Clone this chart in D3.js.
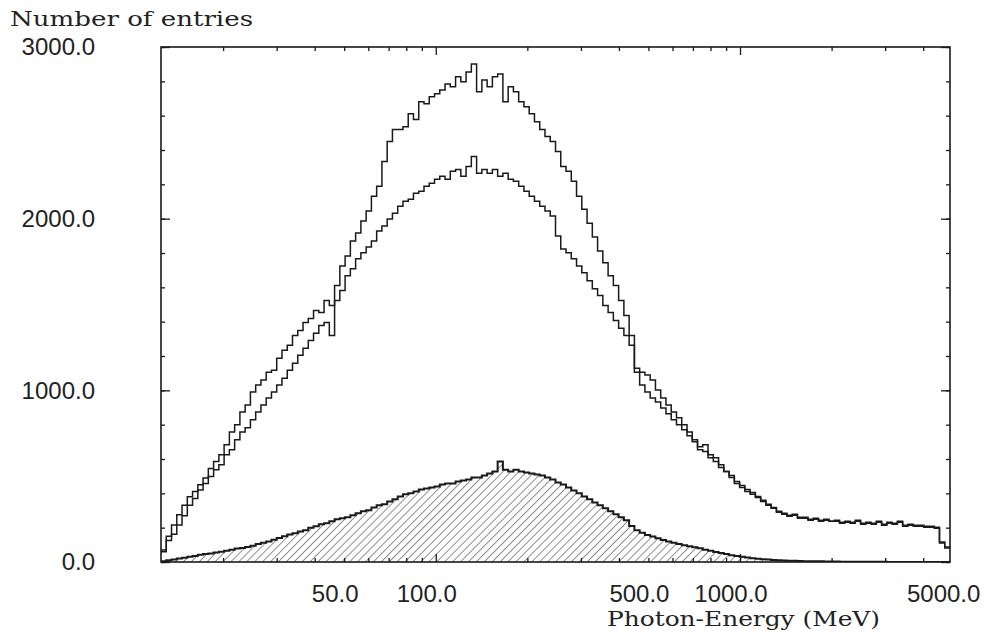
<!DOCTYPE html>
<html>
<head>
<meta charset="utf-8">
<script src="https://cdn.jsdelivr.net/npm/d3@7"></script>
<style>
  html, body { margin: 0; padding: 0; background: #ffffff; }
  svg { display: block; }
</style>
</head>
<body>
<svg id="chart" width="984" height="637"></svg>
<script>
// ---------------- data ----------------
const energyRange = [12.5, 4900];   // MeV, log-binned histogram range
const nBins = 150;

const totalCounts = [
  70, 150, 215, 275, 330, 380, 410, 450, 490, 545,
  585, 625, 683, 758, 799, 874, 915, 990, 1031, 1060,
  1106, 1117, 1187, 1233, 1262, 1320, 1349, 1395, 1419, 1465,
  1453, 1523, 1494, 1610, 1725, 1783, 1870, 1916, 1986, 2044,
  2131, 2189, 2333, 2449, 2519, 2519, 2536, 2611, 2577, 2681,
  2669, 2710, 2727, 2750, 2785, 2768, 2826, 2797, 2854, 2901,
  2739, 2808, 2768, 2826, 2843, 2681, 2768, 2739, 2681, 2652,
  2611, 2565, 2519, 2478, 2449, 2391, 2304, 2276, 2218, 2131,
  2055, 1974, 1893, 1812, 1743, 1668, 1610, 1523, 1436, 1320,
  1129, 1106, 1089, 1060, 1002, 955, 915, 874, 840, 799,
  758, 712, 672, 683, 625, 608, 567, 527, 504, 469,
  446, 423, 405, 382, 359, 336, 318, 295, 284, 272,
  278, 261, 261, 249, 255, 243, 249, 237, 243, 232,
  237, 232, 243, 226, 232, 226, 237, 220, 232, 226,
  237, 214, 220, 214, 214, 208, 208, 203, 116, 87
];

const selectedCounts = [
  60, 125, 162, 215, 270, 330, 370, 420, 457, 498,
  538, 567, 625, 654, 712, 758, 782, 828, 874, 915,
  955, 990, 1031, 1071, 1117, 1158, 1204, 1245, 1291, 1332,
  1378, 1395, 1320, 1523, 1581, 1668, 1708, 1766, 1801, 1835,
  1870, 1928, 1957, 1998, 2032, 2073, 2102, 2113, 2148, 2160,
  2189, 2206, 2229, 2247, 2229, 2276, 2287, 2247, 2304, 2362,
  2264, 2287, 2264, 2287, 2247, 2264, 2229, 2218, 2189, 2160,
  2131, 2102, 2073, 2044, 2015, 1899, 1824, 1801, 1766, 1725,
  1685, 1639, 1592, 1552, 1494, 1453, 1407, 1361, 1320, 1262,
  1106, 1031, 990, 955, 932, 897, 863, 828, 799, 770,
  735, 701, 654, 643, 608, 585, 550, 527, 492, 457,
  434, 411, 394, 376, 353, 330, 313, 290, 278, 266,
  272, 255, 255, 243, 249, 237, 243, 237, 237, 226,
  232, 226, 237, 220, 226, 220, 232, 214, 226, 220,
  232, 208, 214, 208, 208, 203, 203, 197, 110, 82
];

const hatchedCounts = [
  5, 10, 15, 20, 25, 30, 35, 42, 46, 50,
  55, 60, 66, 72, 78, 82, 88, 95, 105, 112,
  120, 130, 140, 150, 160, 168, 178, 185, 200, 208,
  220, 226, 237, 249, 255, 261, 272, 284, 295, 301,
  318, 330, 336, 353, 365, 382, 394, 400, 411, 423,
  428, 434, 440, 452, 457, 457, 469, 475, 481, 492,
  492, 504, 515, 527, 585, 538, 527, 538, 527, 521,
  515, 510, 504, 492, 481, 463, 452, 434, 417, 400,
  382, 365, 347, 330, 313, 295, 278, 261, 243, 210,
  185, 170, 158, 148, 138, 128, 120, 112, 105, 98,
  92, 86, 80, 72, 66, 58, 52, 46, 40, 35,
  30, 26, 22, 19, 16, 14, 12, 10, 9, 8,
  7, 6, 5, 5, 4, 4, 3, 3, 3, 2,
  2, 2, 2, 1, 1, 1, 1, 1, 0, 0,
  0, 0, 0, 0, 0, 0, 0, 0, 0, 0
];

const yTickLabels = [0, 1000, 2000, 3000];
const yMinorTicks = d3.range(0, 3001, 200);
const xTickLabels = [50, 100, 500, 1000, 5000];
const xMinorTicks = [20, 30, 40, 50, 60, 70, 80, 90, 100, 200, 300, 400, 500, 600, 700, 800, 900, 1000, 2000, 3000, 4000];
const xMajorTicks = [100, 1000];
const yTitle = "Number of entries";
const xTitle = "Photon-Energy (MeV)";

// ---------------- layout ----------------
const frame = { left: 161, right: 950, top: 47, bottom: 562 };
const svg = d3.select("#chart");

const x = d3.scaleLog().domain(energyRange).range([frame.left, frame.right]);
const y = d3.scaleLinear().domain([0, 3000]).range([frame.bottom, frame.top]);

// log-spaced bin edges across the energy range
const lo = Math.log10(energyRange[0]), hi = Math.log10(energyRange[1]);
const edges = d3.range(nBins + 1).map(i => Math.pow(10, lo + (hi - lo) * i / nBins));

function stepPath(vals, closeToZero) {
  const p = d3.path();
  if (closeToZero) p.moveTo(x(edges[0]), y(0)); else p.moveTo(x(edges[0]), y(vals[0]));
  vals.forEach((v, i) => {
    p.lineTo(x(edges[i]), y(v));
    p.lineTo(x(edges[i + 1]), y(v));
  });
  if (closeToZero) { p.lineTo(x(edges[nBins]), y(0)); p.closePath(); }
  return p.toString();
}

// hatch pattern
const defs = svg.append("defs");
defs.append("pattern")
  .attr("id", "hatch")
  .attr("patternUnits", "userSpaceOnUse")
  .attr("width", 5.6).attr("height", 5.6)
  .attr("patternTransform", "rotate(45)")
  .append("line")
  .attr("x1", 0).attr("y1", 0).attr("x2", 0).attr("y2", 5.6)
  .attr("stroke", "#333").attr("stroke-width", 1.1);

defs.append("clipPath").attr("id", "clip")
  .append("rect")
  .attr("x", frame.left).attr("y", frame.top)
  .attr("width", frame.right - frame.left).attr("height", frame.bottom - frame.top);

const plot = svg.append("g").attr("clip-path", "url(#clip)");

// hatched histogram
plot.append("path")
  .attr("d", stepPath(hatchedCounts, true))
  .attr("fill", "url(#hatch)")
  .attr("stroke", "none");
plot.append("path")
  .attr("d", stepPath(hatchedCounts, false))
  .attr("fill", "none")
  .attr("stroke", "#1a1a1a")
  .attr("stroke-width", 2);

// two outline histograms
[selectedCounts, totalCounts].forEach(vals => {
  plot.append("path")
    .attr("d", stepPath(vals, false))
    .attr("fill", "none")
    .attr("stroke", "#1a1a1a")
    .attr("stroke-width", 1.5)
    .attr("stroke-linejoin", "miter");
});

// frame
svg.append("rect")
  .attr("x", frame.left).attr("y", frame.top)
  .attr("width", frame.right - frame.left).attr("height", frame.bottom - frame.top)
  .attr("fill", "none").attr("stroke", "#1a1a1a").attr("stroke-width", 1.6);

// y axes (ticks inward)
function cleanAxis(g) { g.select(".domain").remove(); g.selectAll("line").attr("stroke", "#1a1a1a").attr("stroke-width", 1.3); }

svg.append("g").attr("transform", `translate(${frame.left},0)`)
  .call(d3.axisLeft(y).tickValues(yMinorTicks).tickSize(-4).tickFormat(""))
  .call(cleanAxis);
svg.append("g").attr("transform", `translate(${frame.left},0)`)
  .call(d3.axisLeft(y).tickValues(yTickLabels).tickSize(-9).tickPadding(66).tickFormat(d3.format(".1f")))
  .call(cleanAxis)
  .call(g => g.selectAll("text")
    .attr("font-family", "'Liberation Sans', Arial, sans-serif")
    .attr("font-size", 24).attr("fill", "#222"));

svg.append("g").attr("transform", `translate(${frame.right},0)`)
  .call(d3.axisRight(y).tickValues(yMinorTicks).tickSize(-4).tickFormat(""))
  .call(cleanAxis);
svg.append("g").attr("transform", `translate(${frame.right},0)`)
  .call(d3.axisRight(y).tickValues(yTickLabels).tickSize(-9).tickFormat(""))
  .call(cleanAxis);

// x axes (ticks inward)
const xMinorOnly = xMinorTicks.filter(v => !xMajorTicks.includes(v));
svg.append("g").attr("transform", `translate(0,${frame.bottom})`)
  .call(d3.axisBottom(x).tickValues(xMinorOnly).tickSize(-4).tickFormat(""))
  .call(cleanAxis);
svg.append("g").attr("transform", `translate(0,${frame.bottom})`)
  .call(d3.axisBottom(x).tickValues(xMajorTicks).tickSize(-8).tickFormat(""))
  .call(cleanAxis);
svg.append("g").attr("transform", `translate(0,${frame.top})`)
  .call(d3.axisTop(x).tickValues(xMinorOnly).tickSize(-4).tickFormat(""))
  .call(cleanAxis);
svg.append("g").attr("transform", `translate(0,${frame.top})`)
  .call(d3.axisTop(x).tickValues(xMajorTicks).tickSize(-8).tickFormat(""))
  .call(cleanAxis);

// x tick labels (printed slightly left of their ticks, as in the original)
svg.append("g").selectAll("text")
  .data(xTickLabels)
  .join("text")
  .attr("x", d => x(d) - 9)
  .attr("y", 602)
  .attr("text-anchor", "middle")
  .attr("font-family", "'Liberation Sans', Arial, sans-serif")
  .attr("font-size", 24)
  .attr("fill", "#222")
  .text(d => d3.format(".1f")(d));

// titles
svg.append("text")
  .attr("x", 10).attr("y", 26)
  .attr("font-family", "'DejaVu Serif', serif")
  .attr("font-size", 20)
  .attr("fill", "#222")
  .attr("textLength", 243).attr("lengthAdjust", "spacingAndGlyphs")
  .text(yTitle);

svg.append("text")
  .attr("x", 607).attr("y", 626)
  .attr("font-family", "'DejaVu Serif', serif")
  .attr("font-size", 20)
  .attr("fill", "#222")
  .attr("textLength", 273).attr("lengthAdjust", "spacingAndGlyphs")
  .text(xTitle);
</script>
</body>
</html>
